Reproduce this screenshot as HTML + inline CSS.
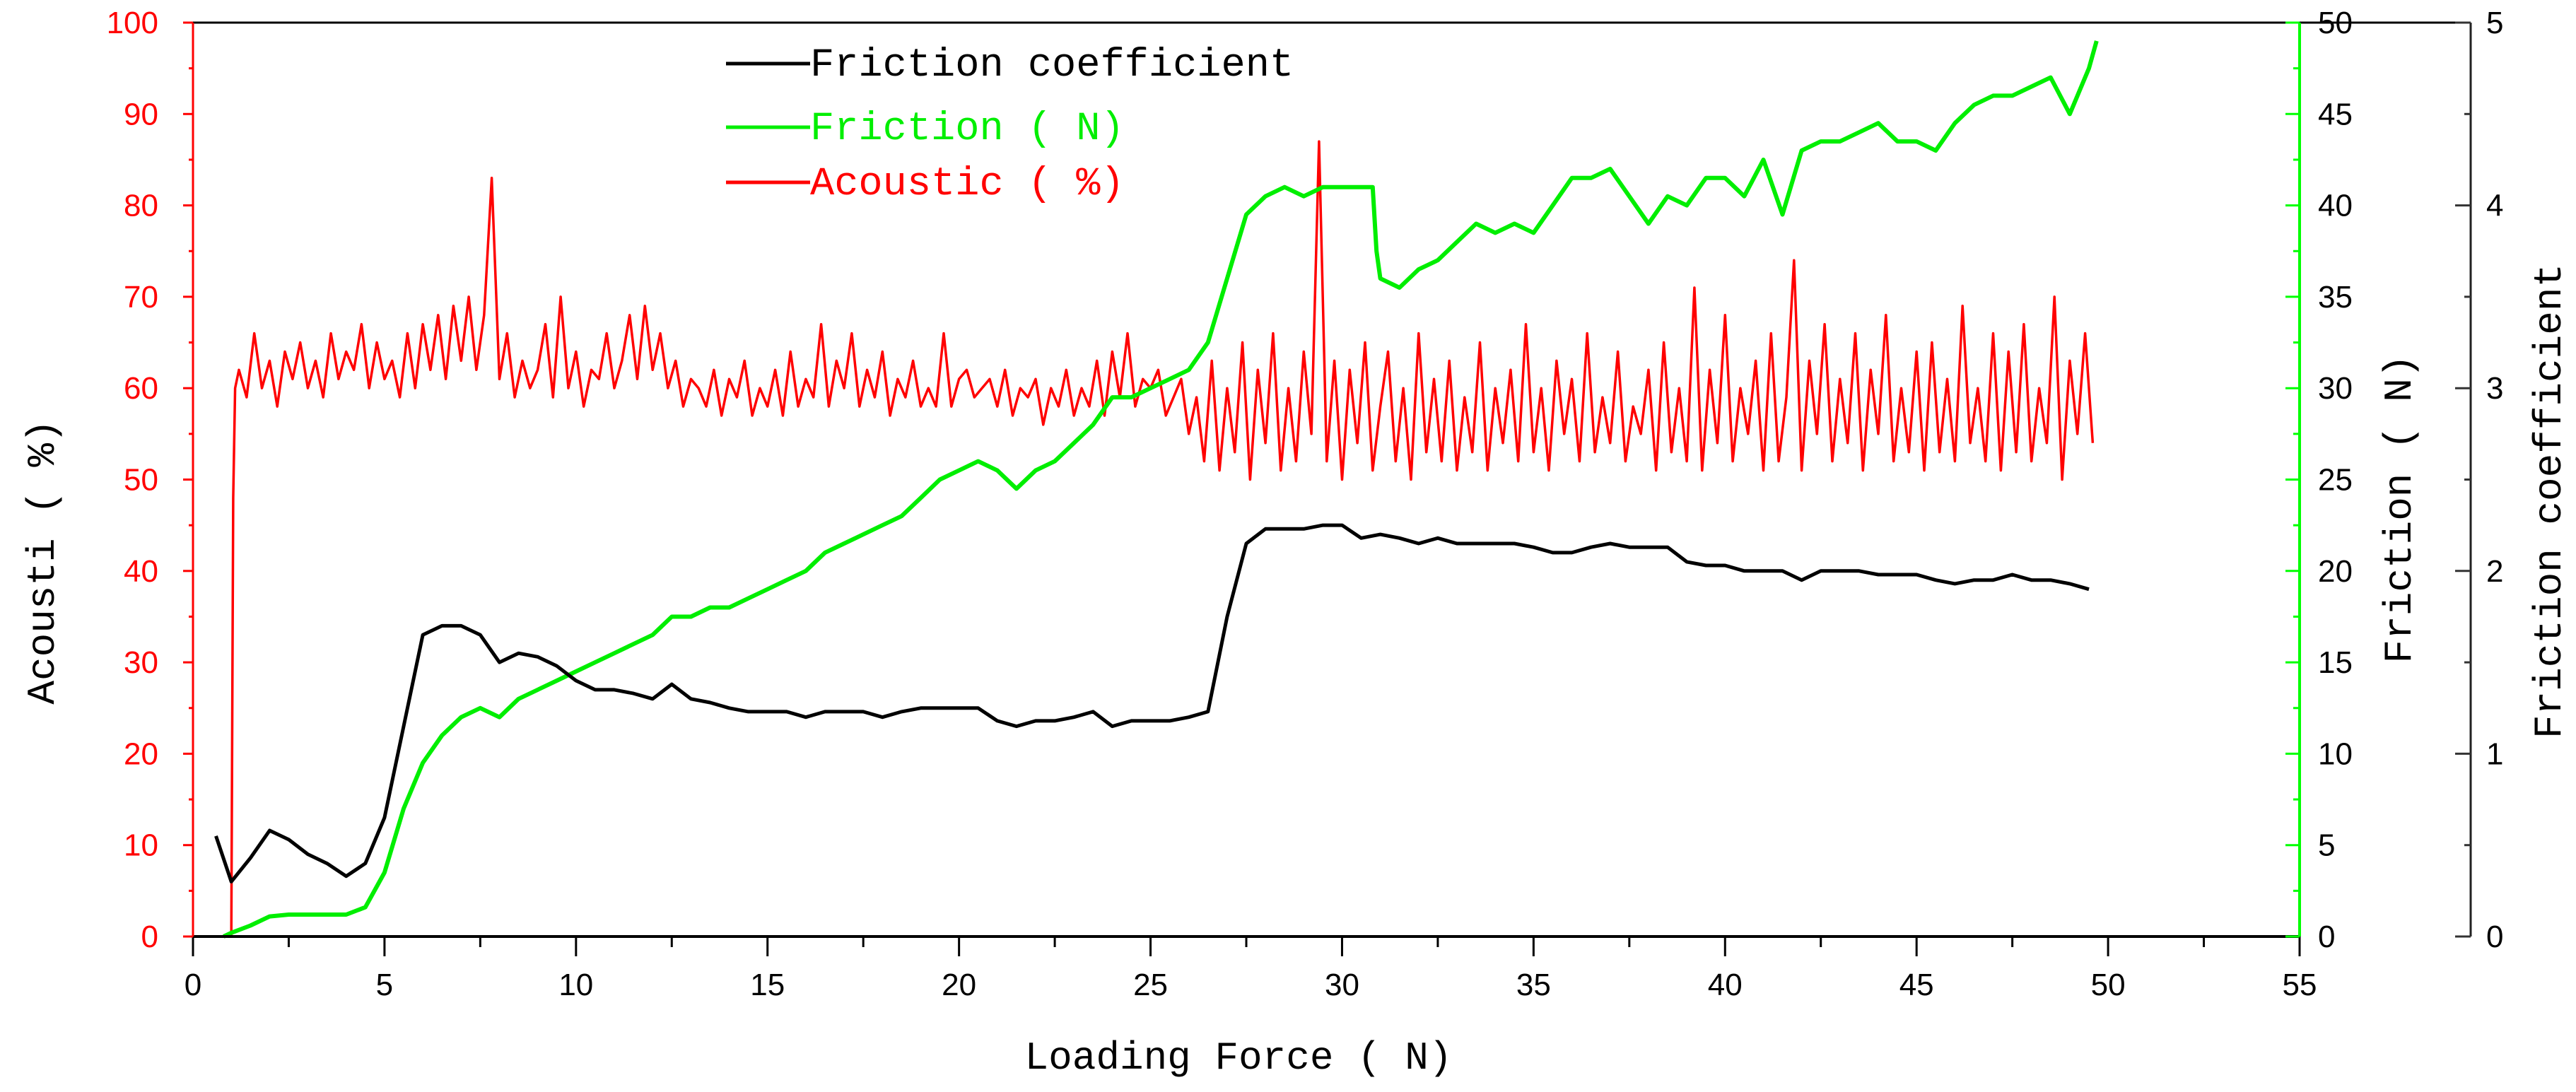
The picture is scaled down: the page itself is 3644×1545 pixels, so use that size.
<!DOCTYPE html>
<html><head><meta charset="utf-8"><style>
html,body{margin:0;padding:0;background:#fff;}
svg{display:block;}
</style></head><body>
<svg id="chart" width="3644" height="1545" viewBox="0 0 3644 1545" xmlns="http://www.w3.org/2000/svg"></svg>
<script>
// ---------- data ----------
const coefX = [0.6,1.0,1.5,2,2.5,3,3.5,4,4.5,5,5.5,6,6.5,7,7.5,8,8.5,9,9.5,10,10.5,11,11.5,12,12.5,13,13.5,14,14.5,15,15.5,16,16.5,17,17.5,18,18.5,19,19.5,20,20.5,21,21.5,22,22.5,23,23.5,24,24.5,25,25.5,26,26.5,27,27.5,28,28.5,29,29.5,30,30.5,31,31.5,32,32.5,33,33.5,34,34.5,35,35.5,36,36.5,37,37.5,38,38.5,39,39.5,40,40.5,41,41.5,42,42.5,43,43.5,44,44.5,45,45.5,46,46.5,47,47.5,48,48.5,49,49.5];
const coefY = [0.55,0.3,0.43,0.58,0.53,0.45,0.4,0.33,0.4,0.65,1.15,1.65,1.7,1.7,1.65,1.5,1.55,1.53,1.48,1.4,1.35,1.35,1.33,1.3,1.38,1.3,1.28,1.25,1.23,1.23,1.23,1.2,1.23,1.23,1.23,1.2,1.23,1.25,1.25,1.25,1.25,1.18,1.15,1.18,1.18,1.2,1.23,1.15,1.18,1.18,1.18,1.2,1.23,1.75,2.15,2.23,2.23,2.23,2.25,2.25,2.18,2.2,2.18,2.15,2.18,2.15,2.15,2.15,2.15,2.13,2.1,2.1,2.13,2.15,2.13,2.13,2.13,2.05,2.03,2.03,2.0,2.0,2.0,1.95,2.0,2.0,2.0,1.98,1.98,1.98,1.95,1.93,1.95,1.95,1.98,1.95,1.95,1.93,1.9];
const fricX = [0.8,1,1.5,2,2.5,3,3.5,4,4.5,5,5.5,6,6.5,7,7.5,8,8.5,9,9.5,10,10.5,11,11.5,12,12.5,13,13.5,14,14.5,15,15.5,16,16.5,17,17.5,18,18.5,19,19.5,20,20.5,21,21.5,22,22.5,23,23.5,24,24.5,25,25.5,26,26.5,27,27.5,28,28.5,29,29.5,30,30.5,30.8,30.9,31,31.5,32,32.5,33,33.5,34,34.5,35,35.5,36,36.5,37,37.5,38,38.5,39,39.5,40,40.5,41,41.5,42,42.5,43,43.5,44,44.5,45,45.5,46,46.5,47,47.5,48,48.5,49,49.5,49.7];
const fricY = [0,0.2,0.6,1.1,1.2,1.2,1.2,1.2,1.6,3.5,7,9.5,11,12,12.5,12,13,13.5,14,14.5,15,15.5,16,16.5,17.5,17.5,18,18,18.5,19,19.5,20,21,21.5,22,22.5,23,24,25,25.5,26,25.5,24.5,25.5,26,27,28,29.5,29.5,30,30.5,31,32.5,36,39.5,40.5,41,40.5,41,41,41,41,37.5,36,35.5,36.5,37,38,39,38.5,39,38.5,40,41.5,41.5,42,40.5,39,40.5,40,41.5,41.5,40.5,42.5,39.5,43,43.5,43.5,44,44.5,43.5,43.5,43,44.5,45.5,46,46,46.5,47,45,47.5,49];
const acStart = 1.2, acStep = 0.2;
const acY = [62,59,66,60,63,58,64,61,65,60, 63,59,66,61,64,62,67,60,65,61, 63,59,66,60,67,62,68,61,69,63,
70,62,68,83,61,66,59,63,60,62, 67,59,70,60,64,58,62,61,66,60, 63,68,61,69,62,66,60,63,58,61,
60,58,62,57,61,59,63,57,60,58, 62,57,64,58,61,59,67,58,63,60, 66,58,62,59,64,57,61,59,63,58,
60,58,66,58,61,62,59,60,61,58, 62,57,60,59,61,56,60,58,62,57, 60,58,63,57,64,59,66,58,61,60,
62,57,59,61,55,59,52,63,51,60, 53,65,50,62,54,66,51,60,52,64, 55,87,52,63,50,62,54,65,51,58,
64,52,60,50,66,53,61,52,63,51, 59,53,65,51,60,54,62,52,67,53, 60,51,63,55,61,52,66,53,59,54,
64,52,58,55,62,51,65,53,60,52, 71,51,62,54,68,52,60,55,63,51, 66,52,59,74,51,63,55,67,52,61,
54,66,51,62,55,68,52,60,53,64, 51,65,53,61,52,69,54,60,52,66, 51,64,53,67,52,60,54,70,50,63,
55,66,54];
const xTicks = [0,5,10,15,20,25,30,35,40,45,50,55];
const leftTicks = [0,10,20,30,40,50,60,70,80,90,100];
const greenTicks = [0,5,10,15,20,25,30,35,40,45,50];
const coefTicks = [0,1,2,3,4,5];

// ---------- layout ----------
const X0=273, X1=3253, Y0=1325, Y1=32, RAX=3495;
const NS="http://www.w3.org/2000/svg";
const svg=document.getElementById('chart');
const sx=v=>X0+(X1-X0)*v/55;
const syL=v=>Y0-(Y0-Y1)*v/100;
const syG=v=>Y0-(Y0-Y1)*v/50;
const syC=v=>Y0-(Y0-Y1)*v/5;
function mk(tag,attrs,parent){const e=document.createElementNS(NS,tag);for(const k in attrs)e.setAttribute(k,attrs[k]);(parent||svg).appendChild(e);return e;}
function line(x1,y1,x2,y2,c,w,g){return mk('line',{x1,y1,x2,y2,stroke:c,'stroke-width':w},g);}
function text(x,y,s,attrs,g){const t=mk('text',Object.assign({x,y},attrs),g);t.textContent=s;return t;}

// series
function poly(xs,ys,fx,fy,color,w,name){
  const pts=xs.map((x,i)=>fx(x).toFixed(1)+','+fy(ys[i]).toFixed(1)).join(' ');
  const p=mk('polyline',{points:pts,fill:'none',stroke:color,'stroke-width':w,'stroke-linejoin':'round'});
  
  
}
const acX=acY.map((v,i)=>acStart+acStep*i);
poly([0.95,1.0,1.05,1.1].concat(acX),[0,0,48,60].concat(acY),sx,syL,'#ff0000',3.5,'acoustic-line');
poly(fricX,fricY,sx,syG,'#00ee00',6,'friction-line');
poly(coefX,coefY,sx,syC,'#000000',5,'friction-coefficient-line');

// axes
const ax=mk('g',{});


line(X0,Y1,RAX,Y1,'#000',3,ax);
line(X0,Y0,X1,Y0,'#000',4,ax);
line(X0,Y1,X0,Y0,'#ff0000',3,ax);
line(X1,Y1,X1,Y0,'#00ff00',4,ax);
line(RAX,Y1,RAX,Y0,'#222',3,ax);
const font='"Liberation Sans", Arial, sans-serif';
for(let v=0;v<=55;v+=2.5){const major=v%5===0;line(sx(v),Y0,sx(v),Y0+(major?28:15),'#000',3,ax);}
xTicks.forEach(v=>{const t=text(sx(v),1408,String(v),{'font-family':font,'font-size':44,'text-anchor':'middle',fill:'#000'},ax);});
for(let v=0;v<=100;v+=5){const major=v%10===0;line(X0-(major?14:6),syL(v),X0,syL(v),'#ff0000',3,ax);}
leftTicks.forEach(v=>{const t=text(224,syL(v)+15,String(v),{'font-family':font,'font-size':44,'text-anchor':'end',fill:'#ff0000'},ax);});
for(let v=0;v<=50;v+=2.5){const major=v%5===0;line(X1-(major?20:9),syG(v),X1,syG(v),'#00ff00',3,ax);}
greenTicks.forEach(v=>{const t=text(X1+26,syG(v)+15,String(v),{'font-family':font,'font-size':44,fill:'#000'},ax);});
for(let v=0;v<=5;v+=0.5){const major=Math.abs(v%1)<1e-6;line(RAX-(major?22:9),syC(v),RAX,syC(v),'#333',3,ax);}
coefTicks.forEach(v=>{const t=text(3517,syC(v)+15,String(v),{'font-family':font,'font-size':44,fill:'#000'},ax);});

// titles
const mono='"Liberation Mono", "Noto Sans CJK SC", monospace';
let t;
t=text(1752,1512,'Loading Force ( N)',{'font-family':mono,'font-size':56,'text-anchor':'middle',fill:'#000'});

t=text(0,0,'Acousti ( %)',{'font-family':mono,'font-size':56,'text-anchor':'middle',fill:'#000',transform:'translate(76,795) rotate(-90)'});

t=text(0,0,'Friction ( N)',{'font-family':mono,'font-size':56,'text-anchor':'middle',fill:'#000',transform:'translate(3410,720) rotate(-90)'});

t=text(0,0,'Friction coefficient',{'font-family':mono,'font-size':56,'text-anchor':'middle',fill:'#000',transform:'translate(3622,709) rotate(-90)'});


// legend
const lg=mk('g',{});


const legendLabels=['Friction coefficient','Friction ( N)','Acoustic ( %)'];
const legendColors=['#000','#00ee00','#ff0000'];
const legendY=[90,180,258];
legendLabels.forEach((s,i)=>{
  line(1027,legendY[i],1146,legendY[i],legendColors[i],5,lg);
  const e=text(1146,legendY[i]+17,s,{'font-family':mono,'font-size':57,fill:legendColors[i]},lg);
  
  
});
</script>
</body></html>
